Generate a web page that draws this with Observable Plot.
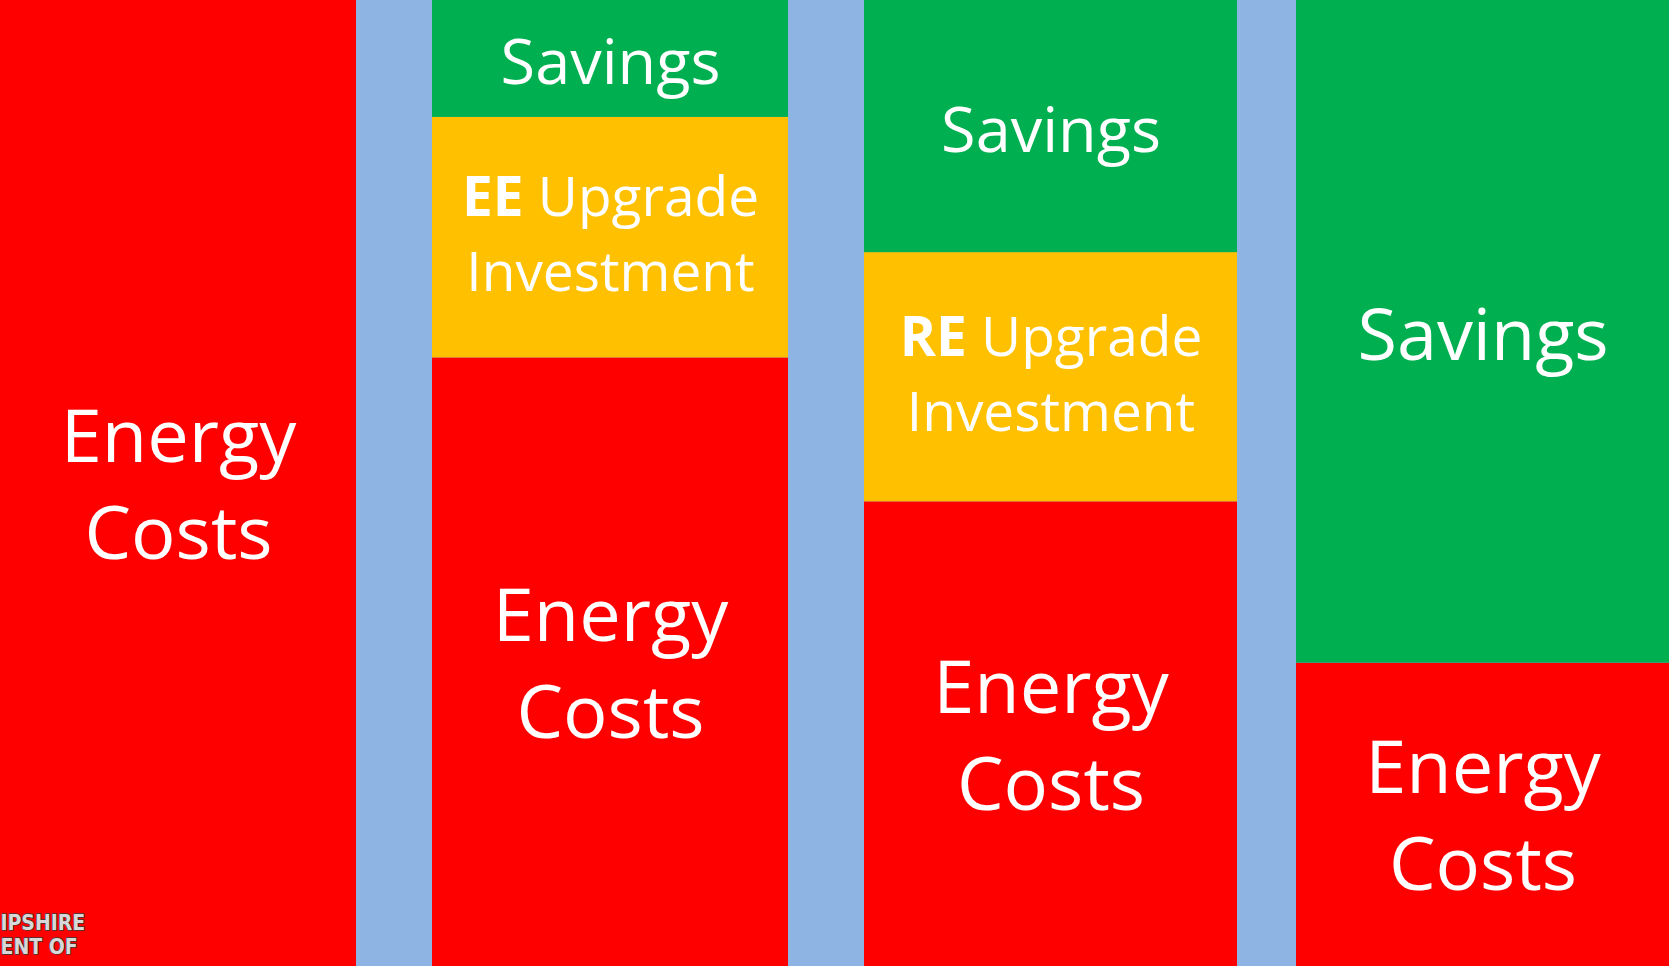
<!DOCTYPE html>
<html><head><meta charset="utf-8">
<script src="https://cdn.jsdelivr.net/npm/d3@7"></script>
<script src="https://cdn.jsdelivr.net/npm/@observablehq/plot@0.6"></script>
<style>html,body{margin:0;padding:0;background:#8EB4E3;overflow:hidden}</style>
</head><body><div id="chart"></div>
<script>
// Columns of the slide chart (left to right)
const columns = ["Current", "Efficiency", "Renewables", "Combined"];
// Segment heights, in percent of the full column height
const energyCosts = [100, 63.0, 48.1, 31.4];
const upgradeInvestment = [0, 24.9, 25.8, 0];
const savings = [0, 12.1, 26.1, 68.6];
const upgradeTypes = ["", "EE", "RE", ""];
const kinds = ["Energy Costs", "Upgrade Investment", "Savings"];
const logoLines = ["IPSHIRE", "ENT OF"];
// The first two columns are drawn a little narrower than the last two
const narrowColumns = ["Current", "Efficiency"];

const rows = [];
columns.forEach((col, i) => {
  let base = 0;
  [["Energy Costs", energyCosts[i], "Energy\nCosts"],
   ["Upgrade Investment", upgradeInvestment[i], `${upgradeTypes[i]} Upgrade\nInvestment`],
   ["Savings", savings[i], "Savings"]].forEach(([kind, v, label]) => {
    if (!v) return;
    rows.push({col, kind, value: v, y1: base, y2: base + v, mid: base + v / 2, label});
    base += v;
  });
});

function groupMarks(data, inset) {
  const dx = -inset / 2;
  return [
    Plot.barY(data, {x: "col", y1: "y1", y2: "y2", fill: "kind", insetRight: inset}),
    Plot.text(data.filter(d => d.kind === "Energy Costs"),
      {x: "col", y: "mid", text: "label", fill: "white", fontSize: 74, lineHeight: 1.31, dx, dy: -4}),
    Plot.text(data.filter(d => d.kind === "Upgrade Investment"),
      {x: "col", y: "mid", text: "label", fill: "white", fontSize: 55, lineHeight: 1.36, dx, dy: -8}),
    Plot.text(data.filter(d => d.kind === "Savings"),
      {x: "col", y: "mid", text: "label", fill: "white", dx, dy: 5,
       fontSize: d => d.value > 50 ? 72 : 63})
  ];
}

const chart = Plot.plot({
  width: 1669, height: 966, margin: 0,
  style: {background: "#8EB4E3", fontFamily: "'Open Sans', sans-serif"},
  x: {domain: columns, axis: null, paddingInner: 0.1366, paddingOuter: 0, align: 0},
  y: {domain: [0, 100], axis: null},
  color: {domain: kinds, range: ["#FF0000", "#FFC000", "#00B050"]},
  marks: [
    ...groupMarks(rows.filter(d => narrowColumns.includes(d.col)), 17),
    ...groupMarks(rows.filter(d => !narrowColumns.includes(d.col)), 0),
    Plot.text([logoLines.join("\n")],
      {frameAnchor: "bottom-left", textAnchor: "start", lineAnchor: "bottom", dy: -13,
       fontSize: 21, fontWeight: "bold", lineHeight: 1.14,
       fontFamily: "'Liberation Sans Narrow', 'DejaVu Sans Condensed', sans-serif",
       fill: "#d8d8d8", stroke: "#3a3a3a", strokeWidth: 1.4})
  ]
});

// Bold abbreviation ("EE" / "RE") inside the upgrade labels
d3.select(chart).selectAll("tspan").each(function () {
  const m = this.textContent.match(/^(EE|RE) (Upgrade)$/);
  if (!m) return;
  this.textContent = "";
  const s = d3.select(this);
  s.append("tspan").attr("font-weight", "bold").text(m[1]);
  s.append("tspan").text(" " + m[2]);
});

document.getElementById("chart").appendChild(chart);
</script>
</body></html>
